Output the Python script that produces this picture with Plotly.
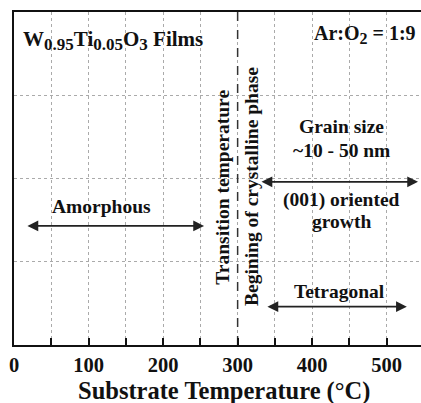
import plotly.graph_objects as go

# Data
x_ticks = [0, 100, 200, 300, 400, 500]
transition_temp = 300
phase_labels = ["Amorphous", "Grain size<br>~10 - 50 nm", "(001) oriented<br>growth", "Tetragonal"]
arrow_ranges = {"Amorphous": (16, 255), "Grain": (330, 542), "Tetragonal": (338, 527)}
arrow_levels = {"Amorphous": 1.43, "Grain": 1.96, "Tetragonal": 0.46}

FONT = "Liberation Serif, Times New Roman, serif"
fig = go.Figure()

fig.add_trace(go.Scatter(x=[transition_temp, transition_temp], y=[0, 4], mode="lines",
                         line=dict(color="#333", width=1.5, dash="dash"),
                         showlegend=False, hoverinfo="skip"))

def arrow(key):
    x0, x1 = arrow_ranges[key]
    y = arrow_levels[key]
    fig.add_annotation(x=x1, y=y, ax=x0, ay=y, xref="x", yref="y", axref="x", ayref="y",
                       showarrow=True, arrowhead=2, startarrowhead=2, arrowside="end+start",
                       arrowsize=1.2, startarrowsize=1.2, arrowwidth=1.8, arrowcolor="#222", text="")

for k in arrow_ranges:
    arrow(k)

def txt(text, x, y, size=19.5, xanchor="center", angle=0, ref="x", yref="y"):
    fig.add_annotation(x=x, y=y, xref=ref, yref=yref, text=text, showarrow=False,
                       xanchor=xanchor, yanchor="middle", textangle=angle,
                       font=dict(family=FONT, size=size, color="#111", weight="bold"))

txt(phase_labels[0], 117, 1.66)
txt("Grain size", 440, 2.62)
txt("~10 - 50 nm", 440, 2.34)
txt("(001) oriented", 440, 1.74)
txt("growth", 440, 1.48)
txt(phase_labels[3], 436, 0.64)
sub = lambda s, fs=17: "<sub><span style='font-size:%dpx'>" % fs + s + "</span></sub>"
txt("W" + sub("0.95") + "Ti" + sub("0.05") + "O" + sub("3") + " Films", 10, 3.66, size=21, xanchor="left")
txt("Ar:O" + sub("2", 16) + " = 1:9", 542, 3.73, size=20, xanchor="right")
txt("Transition temperature", 280.5, 1.89, size=19.5, angle=-90)
txt("Begining of crystalline phase", 319.5, 1.9, size=19.5, angle=-90)
# x-axis title placed as annotation (slightly right of centre as in the reference)
txt("Substrate Temperature (°C)", 0.517, -0.138, size=24.5, ref="paper", yref="paper")

fig.update_layout(
    width=421, height=403, margin=dict(l=14, r=0, t=12, b=58),
    paper_bgcolor="white", plot_bgcolor="white", showlegend=False,
    xaxis=dict(range=[0, 546], tickvals=x_ticks, ticks="inside", ticklen=7, tickwidth=1.5,
               tickcolor="#111", showline=True, linecolor="#111", linewidth=2, mirror=True,
               showgrid=True, gridcolor="#aaa", griddash="dot", gridwidth=1,
               minor=dict(dtick=50, tick0=0, ticks="inside", ticklen=7, tickwidth=1.5, tickcolor="#111",
                          showgrid=True, gridcolor="#aaa", griddash="dot", gridwidth=1),
               tickfont=dict(family=FONT, size=20.5, color="#111", weight="bold"),
               zeroline=False),
    yaxis=dict(range=[0, 4], tickvals=[1, 2, 3], showticklabels=False, ticks="",
               showline=True, linecolor="#111", linewidth=2,
               showgrid=True, gridcolor="#aaa", griddash="dot", gridwidth=1, zeroline=False),
)

fig.write_html("out.html")
